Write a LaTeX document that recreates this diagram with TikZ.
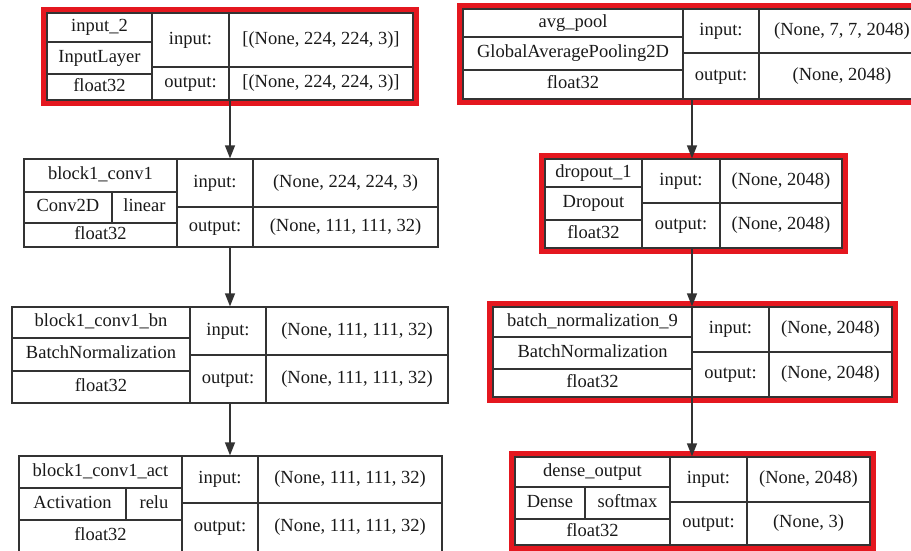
\documentclass[tikz,border=0pt]{standalone}
\usepackage{fontspec}
\setmainfont{Liberation Serif}
\usetikzlibrary{arrows.meta,fit}
\definecolor{kerasred}{HTML}{E4171F}
\definecolor{rule}{HTML}{333333}

\begin{document}
\begin{tikzpicture}[x=1pt, y=-1pt,
    tbl/.style = {draw=rule, line width=1.2pt, inner sep=0pt},
    grid/.style = {draw=rule, line width=1.2pt},
    hl/.style = {draw=kerasred, line width=4.5pt, inner sep=3pt},
    lbl/.style = {inner sep=0pt, font=\fontsize{18.5}{20}\selectfont, text height=12pt, text depth=4pt, text=black!90},
    flow/.style = {draw=rule, line width=1.2pt, -{Triangle[length=13pt, width=10pt]}}]
    \useasboundingbox (0,0) rectangle (911,550);
    \clip (0,0) rectangle (911,550);
    \coordinate (colL) at (230,0);
    \coordinate (colR) at (692,0);

    % input_2
    \node[tbl, fit={(47,13) (413,100)}] (input2) {};
    \draw[grid] (152,13) -- (152,100) (229,13) -- (229,100)
        (47,42) -- (152,42) (47,74) -- (152,74) (152,67) -- (413,67);
    \node[lbl] (input2name) at (99.5,27.5) {input\_2};
    \node[lbl] (input2type) at (99.5,58) {InputLayer};
    \node[lbl] (input2dtype) at (99.5,87) {float32};
    \node[lbl] (input2in) at (190.5,40) {input:};
    \node[lbl] (input2out) at (190.5,83.5) {output:};
    \node[lbl] (input2inshape) at (321,40) {[(None, 224, 224, 3)]};
    \node[lbl] (input2outshape) at (321,83.5) {[(None, 224, 224, 3)]};
    \node[hl, fit=(input2)] (input2frame) {};

    % block1_conv1
    \node[tbl, fit={(24,159) (438,247)}] (conv1) {};
    \draw[grid] (177,159) -- (177,247) (253,159) -- (253,247)
        (24,192) -- (177,192) (24,223) -- (177,223) (177,207) -- (438,207)
        (112,192) -- (112,223);
    \node[lbl] (conv1name) at (100.5,175.5) {block1\_conv1};
    \node[lbl] (conv1type) at (68,207.5) {Conv2D};
    \node[lbl] (conv1act) at (144.5,207.5) {linear};
    \node[lbl] (conv1dtype) at (100.5,235) {float32};
    \node[lbl] (conv1in) at (215,183) {input:};
    \node[lbl] (conv1out) at (215,227) {output:};
    \node[lbl] (conv1inshape) at (345.5,183) {(None, 224, 224, 3)};
    \node[lbl] (conv1outshape) at (345.5,227) {(None, 111, 111, 32)};

    % block1_conv1_bn
    \node[tbl, fit={(12,307) (448,403)}] (bn1) {};
    \draw[grid] (190,307) -- (190,403) (266,307) -- (266,403)
        (12,338) -- (190,338) (12,371) -- (190,371) (190,355) -- (448,355);
    \node[lbl] (bn1name) at (101,322.5) {block1\_conv1\_bn};
    \node[lbl] (bn1type) at (101,354.5) {BatchNormalization};
    \node[lbl] (bn1dtype) at (101,387) {float32};
    \node[lbl] (bn1in) at (228,331) {input:};
    \node[lbl] (bn1out) at (228,379) {output:};
    \node[lbl] (bn1inshape) at (357,331) {(None, 111, 111, 32)};
    \node[lbl] (bn1outshape) at (357,379) {(None, 111, 111, 32)};

    % block1_conv1_act
    \node[tbl, fit={(19,456) (442,552)}] (act1) {};
    \draw[grid] (182,456) -- (182,552) (258,456) -- (258,552)
        (19,488) -- (182,488) (19,520) -- (182,520) (182,503) -- (442,503)
        (126,488) -- (126,520);
    \node[lbl] (act1name) at (100.5,472) {block1\_conv1\_act};
    \node[lbl] (act1type) at (72.5,504) {Activation};
    \node[lbl] (act1fn) at (154,504) {relu};
    \node[lbl] (act1dtype) at (100.5,536) {float32};
    \node[lbl] (act1in) at (220,479.5) {input:};
    \node[lbl] (act1out) at (220,527.5) {output:};
    \node[lbl] (act1inshape) at (350,479.5) {(None, 111, 111, 32)};
    \node[lbl] (act1outshape) at (350,527.5) {(None, 111, 111, 32)};

    % avg_pool
    \node[tbl, fit={(463,9) (925,99)}] (pool) {};
    \draw[grid] (683,9) -- (683,99) (759,9) -- (759,99)
        (463,37) -- (683,37) (463,70) -- (683,70) (683,53) -- (925,53);
    \node[lbl] (poolname) at (573,23) {avg\_pool};
    \node[lbl] (pooltype) at (573,53.5) {GlobalAveragePooling2D};
    \node[lbl] (pooldtype) at (573,84.5) {float32};
    \node[lbl] (poolin) at (721,31) {input:};
    \node[lbl] (poolout) at (721,76) {output:};
    \node[lbl] (poolinshape) at (842,31) {(None, 7, 7, 2048)};
    \node[lbl] (pooloutshape) at (842,76) {(None, 2048)};
    \node[hl, fit=(pool)] (poolframe) {};

    % dropout_1
    \node[tbl, fit={(545,159) (842,248)}] (drop) {};
    \draw[grid] (642,159) -- (642,248) (720,159) -- (720,248)
        (545,187) -- (642,187) (545,220) -- (642,220) (642,203) -- (842,203);
    \node[lbl] (dropname) at (593.5,173) {dropout\_1};
    \node[lbl] (droptype) at (593.5,203.5) {Dropout};
    \node[lbl] (dropdtype) at (593.5,234) {float32};
    \node[lbl] (dropin) at (681,181) {input:};
    \node[lbl] (dropout) at (681,225.5) {output:};
    \node[lbl] (dropinshape) at (781,181) {(None, 2048)};
    \node[lbl] (dropoutshape) at (781,225.5) {(None, 2048)};
    \node[hl, fit=(drop)] (dropframe) {};

    % batch_normalization_9
    \node[tbl, fit={(493,307) (892,397)}] (bn9) {};
    \draw[grid] (692,307) -- (692,397) (769,307) -- (769,397)
        (493,337) -- (692,337) (493,369) -- (692,369) (692,352) -- (892,352);
    \node[lbl] (bn9name) at (592.5,322) {batch\_normalization\_9};
    \node[lbl] (bn9type) at (592.5,353) {BatchNormalization};
    \node[lbl] (bn9dtype) at (592.5,383) {float32};
    \node[lbl] (bn9in) at (730.5,329.5) {input:};
    \node[lbl] (bn9out) at (730.5,374.5) {output:};
    \node[lbl] (bn9inshape) at (830.5,329.5) {(None, 2048)};
    \node[lbl] (bn9outshape) at (830.5,374.5) {(None, 2048)};
    \node[hl, fit=(bn9)] (bn9frame) {};

    % dense_output
    \node[tbl, fit={(515,457) (870,545)}] (dense) {};
    \draw[grid] (670,457) -- (670,545) (747,457) -- (747,545)
        (515,487) -- (670,487) (515,519) -- (670,519) (670,502) -- (870,502)
        (585,487) -- (585,519);
    \node[lbl] (densename) at (592.5,472) {dense\_output};
    \node[lbl] (densetype) at (550,503) {Dense};
    \node[lbl] (densefn) at (627.5,503) {softmax};
    \node[lbl] (densedtype) at (592.5,532) {float32};
    \node[lbl] (densein) at (708.5,479.5) {input:};
    \node[lbl] (denseout) at (708.5,523.5) {output:};
    \node[lbl] (denseinshape) at (808.5,479.5) {(None, 2048)};
    \node[lbl] (denseoutshape) at (808.5,523.5) {(None, 3)};
    \node[hl, fit=(dense)] (denseframe) {};

    % layer order
    \draw[flow] (input2.south -| colL) -- (conv1.north -| colL);
    \draw[flow] (conv1.south -| colL) -- (bn1.north -| colL);
    \draw[flow] (bn1.south -| colL) -- (act1.north -| colL);
    \draw[flow] (pool.south -| colR) -- (drop.north -| colR);
    \draw[flow] (drop.south -| colR) -- (bn9.north -| colR);
    \draw[flow] (bn9.south -| colR) -- (dense.north -| colR);
\end{tikzpicture}
\end{document}
